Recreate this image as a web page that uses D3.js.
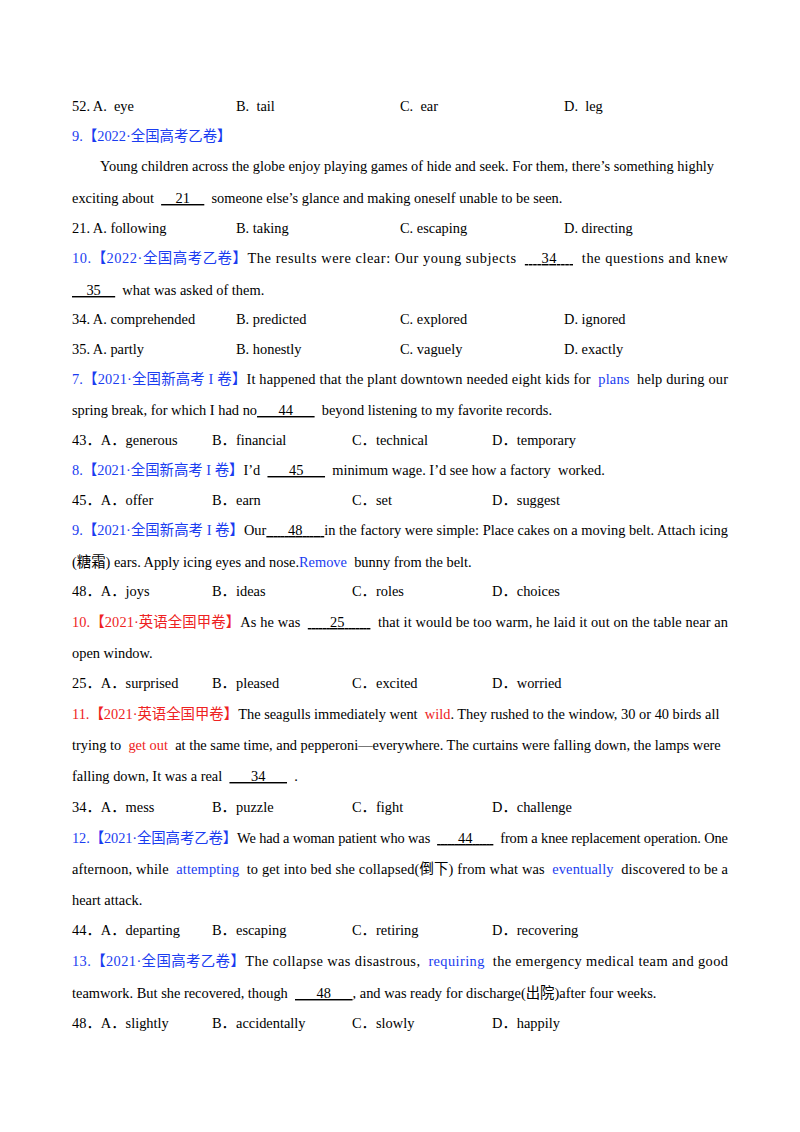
<!DOCTYPE html>
<html><head><meta charset="utf-8">
<script src="https://cdn.jsdelivr.net/npm/d3@7"></script>
<style>body{margin:0;background:#fff}</style>
</head><body>
<script>
// each row: y, justify flag, segments [text, style]  (b = blue, r = red, u = underlined blank)
var paraRows = [
  [136, 0, [['9.【2022·全国高考乙卷】','b']]],
  [166, 0, [['Young children across the globe enjoy playing games of hide and seek. For them, there’s something highly','']]],
  [198, 0, [['exciting about  ',''],['    21    ','u'],['  someone else’s glance and making oneself unable to be seen.','']]],
  [258, 1, [['10.【2022·全国高考乙卷】','b'],['The results were clear: Our young subjects  ',''],['    34    ','u'],['  the questions and knew','']]],
  [290, 0, [['    35    ','u'],['  what was asked of them.','']]],
  [379, 1, [['7.【2021·全国新高考 I 卷】','b'],['It happened that the plant downtown needed eight kids for  ',''],['plans','b'],['  help during our','']]],
  [410, 0, [['spring break, for which I had no',''],['      44      ','u'],['  beyond listening to my favorite records.','']]],
  [470, 0, [['8.【2021·全国新高考 I 卷】','b'],['I’d  ',''],['      45      ','u'],['  minimum wage. I’d see how a factory  worked.','']]],
  [530, 1, [['9.【2021·全国新高考 I 卷】','b'],['Our',''],['      48      ','u'],['in the factory were simple: Place cakes on a moving belt. Attach icing','']]],
  [562, 0, [['(糖霜) ears. Apply icing eyes and nose.',''],['Remove','b'],['  bunny from the belt.','']]],
  [622, 1, [['10.【2021·英语全国甲卷】','r'],['As he was  ',''],['      25       ','u'],['  that it would be too warm, he laid it out on the table near an','']]],
  [653, 0, [['open window.','']]],
  [714, 0, [['11.【2021·英语全国甲卷】','r'],['The seagulls immediately went  ',''],['wild','r'],['. They rushed to the window, 30 or 40 birds all','']]],
  [745, 0, [['trying to  ',''],['get out','r'],['  at the same time, and pepperoni—everywhere. The curtains were falling down, the lamps were','']]],
  [776, 0, [['falling down, It was a real  ',''],['      34      ','u'],['  .','']]],
  [838, 1, [['12.【2021·全国高考乙卷】','b'],['We had a woman patient who was  ',''],['      44      ','u'],['  from a knee replacement operation. One','']]],
  [869, 1, [['afternoon, while  ',''],['attempting','b'],['  to get into bed she collapsed(倒下) from what was  ',''],['eventually','b'],['  discovered to be a','']]],
  [900, 0, [['heart attack.','']]],
  [961, 1, [['13.【2021·全国高考乙卷】','b'],['The collapse was disastrous,  ',''],['requiring','b'],['  the emergency medical team and good','']]],
  [993, 0, [['teamwork. But she recovered, though  ',''],['      48      ','u'],[', and was ready for discharge(出院)after four weeks.','']]]
];
var indentRows = [166];
// option rows: y, spacing type (0 = wide, 1 = narrow), labels
var optionRows = [
  [106, 0, ['52. A.  eye','B.  tail','C.  ear','D.  leg']],
  [228, 0, ['21. A. following','B. taking','C. escaping','D. directing']],
  [319, 0, ['34. A. comprehended','B. predicted','C. explored','D. ignored']],
  [349, 0, ['35. A. partly','B. honestly','C. vaguely','D. exactly']],
  [440, 1, ['43．A．generous','B．financial','C．technical','D．temporary']],
  [500, 1, ['45．A．offer','B．earn','C．set','D．suggest']],
  [591, 1, ['48．A．joys','B．ideas','C．roles','D．choices']],
  [683, 1, ['25．A．surprised','B．pleased','C．excited','D．worried']],
  [807, 1, ['34．A．mess','B．puzzle','C．fight','D．challenge']],
  [930, 1, ['44．A．departing','B．escaping','C．retiring','D．recovering']],
  [1023, 1, ['48．A．slightly','B．accidentally','C．slowly','D．happily']]
];
var colors = {b:'#1a3cf0', r:'#ee2222', '':'#000', u:'#000'};

var svg = d3.select('body').append('svg').attr('width', 800).attr('height', 1132)
  .style('font-family', '"Liberation Serif","Noto Sans CJK SC",serif').style('font-size', '14.4px');

var left = 72, right = 728;
var colScale = [d3.scaleLinear().domain([0, 1]).range([72, 236]),
                d3.scaleLinear().domain([0, 1]).range([72, 212])];

var para = svg.selectAll('text.p').data(paraRows).join('text')
  .attr('class', 'p')
  .attr('x', function(d) { return indentRows.indexOf(d[0]) >= 0 ? 100 : left; })
  .attr('y', function(d) { return d[0] + 5; })
  .style('white-space', 'pre');
para.selectAll('tspan').data(function(d) { return d[2]; }).join('tspan')
  .text(function(s) { return s[1] == 'u' ? s[0].replace(/ /g, '\u00a0') : s[0]; })
  .attr('fill', function(s) { return colors[s[1]]; })
  .style('text-decoration', function(s) { return s[1] == 'u' ? 'underline' : null; });
para.filter(function(d) { return d[1]; })
  .attr('textLength', right - left).attr('lengthAdjust', 'spacing');

svg.selectAll('g.o').data(optionRows).join('g').attr('class', 'o')
  .each(function(d) {
    d3.select(this).selectAll('text').data(d[2]).join('text')
      .attr('x', function(s, i) { return colScale[d[1]](i); })
      .attr('y', d[0] + 5).style('white-space', 'pre').text(function(s) { return s; });
  });
</script>
</body></html>
